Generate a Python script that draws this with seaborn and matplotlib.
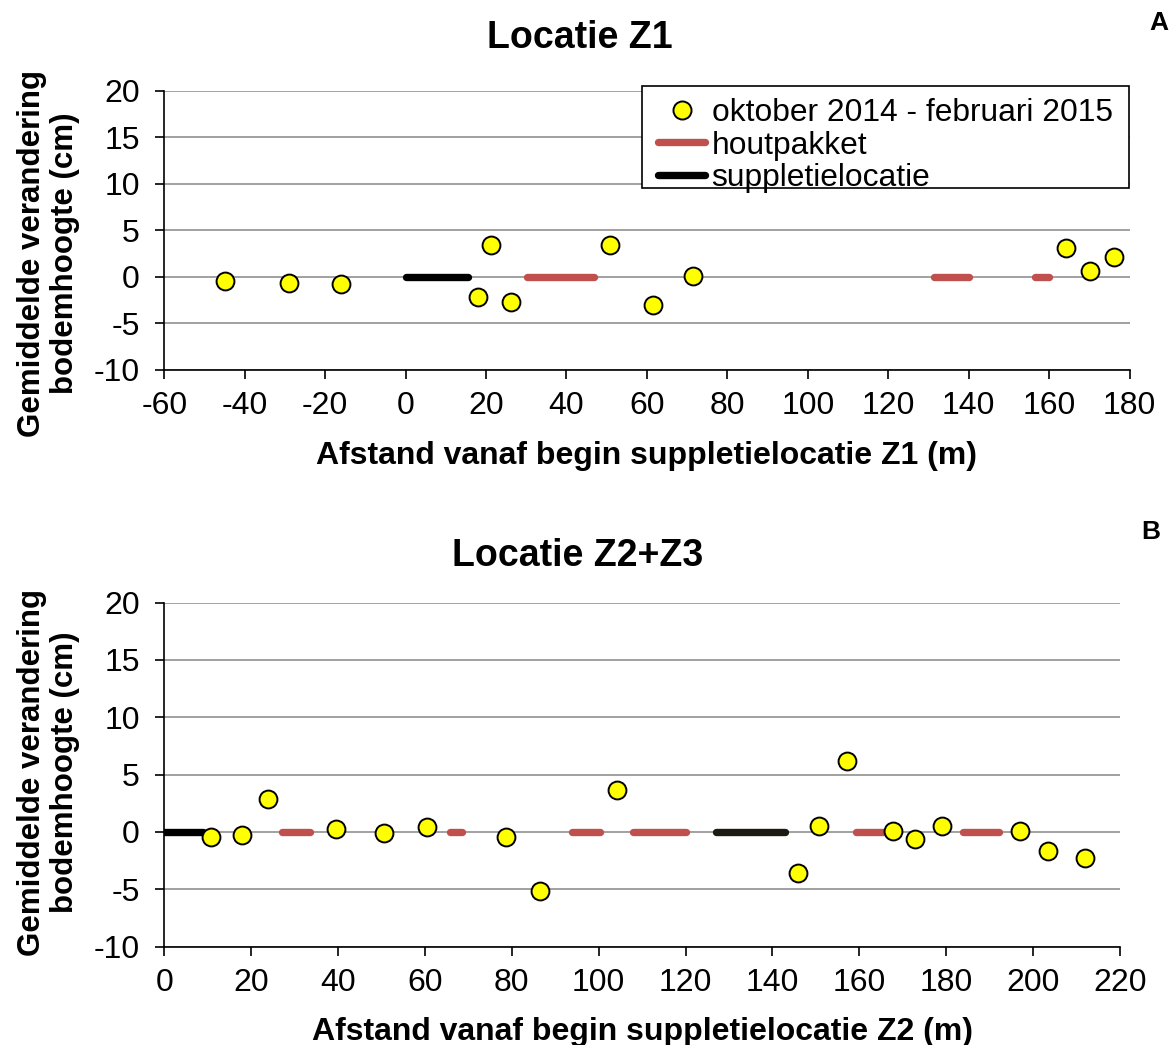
import matplotlib
matplotlib.use("Agg")
import matplotlib.pyplot as plt
from matplotlib.lines import Line2D
from matplotlib.patches import Rectangle
from matplotlib.legend_handler import HandlerLine2D
import pandas as pd
import seaborn as sns

# ---- Locatie Z1 -------------------------------------------------------------
z1_afstand = [-44.8, -28.9, -16.1, 18.0, 21.2, 26.3, 50.9, 61.4, 71.4, 164.1, 170.2, 176.1]
z1_verandering = [-0.47, -0.65, -0.76, -2.17, 3.41, -2.68, 3.41, -3.0, 0.05, 3.08, 0.65, 2.07]
z1_hout_begin = [30.2, 131.4, 156.4]
z1_hout_eind = [46.9, 140.0, 160.1]
z1_suppletie_begin = [0.0]
z1_suppletie_eind = [15.5]

# ---- Locatie Z2+Z3 ----------------------------------------------------------
z2_afstand = [10.8, 17.8, 23.8, 39.6, 50.6, 60.5, 78.6, 86.6, 104.1,
              145.9, 150.7, 157.1, 167.8, 172.9, 179.1, 196.9, 203.5, 212.0]
z2_verandering = [-0.44, -0.23, 2.85, 0.29, -0.12, 0.44, -0.44, -5.15, 3.69,
                  -3.55, 0.49, 6.22, 0.06, -0.64, 0.49, 0.06, -1.66, -2.30]
z2_hout_begin = [27.0, 65.7, 93.8, 108.0, 159.3, 183.9]
z2_hout_eind = [33.6, 68.5, 100.4, 120.0, 166.0, 192.1]
z2_suppletie_begin = [0.0, 127.1]
z2_suppletie_eind = [9.0, 142.9]

y_ticks = [-10, -5, 0, 5, 10, 15, 20]
z1_x_ticks = list(range(-60, 181, 20))
z2_x_ticks = list(range(0, 221, 20))

legend_labels = ["oktober 2014 - februari 2015", "houtpakket", "suppletielocatie"]

YELLOW = "#FFFF00"
RED = "#C0504D"
GRID = "#878787"
LW_SEG = 5.3
W, H = 1175, 1045

sns.set_theme(style="white")
plt.rcParams["font.family"] = ["Liberation Sans", "DejaVu Sans"]
plt.rcParams["axes.unicode_minus"] = False
plt.rcParams["text.color"] = "black"


def segments(begin, eind):
    rows = []
    for i, (b, e) in enumerate(zip(begin, eind)):
        rows.append({"seg": i, "x": b, "y": 0.0})
        rows.append({"seg": i, "x": e, "y": 0.0})
    return pd.DataFrame(rows)


def draw_panel(ax, afstand, verandering, hout_b, hout_e, supp_b, supp_e,
               xlim, xticks, supp_colors):
    ax.set_xlim(*xlim)
    ax.set_ylim(-10, 20)
    ax.set_yticks(y_ticks)
    ax.set_xticks(xticks)
    ax.yaxis.grid(True, color=GRID, lw=1.1)
    ax.xaxis.grid(False)
    ax.set_axisbelow(True)

    sns.lineplot(data=segments(hout_b, hout_e), x="x", y="y", units="seg",
                 estimator=None, sort=False, color=RED, lw=LW_SEG,
                 solid_capstyle="round", ax=ax, legend=False, zorder=3)
    sns.lineplot(data=segments(supp_b, supp_e), x="x", y="y", hue="seg",
                 palette=supp_colors[:len(supp_b)], estimator=None, sort=False,
                 lw=LW_SEG, solid_capstyle="round", ax=ax, legend=False, zorder=3)
    sns.scatterplot(x=afstand, y=verandering, s=165, color=YELLOW,
                    edgecolor="black", linewidth=1.4, ax=ax, zorder=5,
                    legend=False)

    sns.despine(ax=ax)
    for side in ("left", "bottom"):
        ax.spines[side].set_color("black")
        ax.spines[side].set_linewidth(1.2)
    ax.tick_params(axis="both", which="major", direction="out", length=6.5,
                   width=1.2, color="black", labelsize=23, labelcolor="black",
                   bottom=True, left=True, top=False, right=False)
    ax.tick_params(axis="y", pad=11)
    ax.tick_params(axis="x", pad=9)


fig = plt.figure(figsize=(W / 100, H / 100), dpi=100)
ax1 = fig.add_axes([0.1398, 0.6462, 0.8215, 0.2670])
ax2 = fig.add_axes([0.1398, 0.0941, 0.8134, 0.3292])

draw_panel(ax1, z1_afstand, z1_verandering, z1_hout_begin, z1_hout_eind,
           z1_suppletie_begin, z1_suppletie_eind, (-60, 180), z1_x_ticks,
           ["#000000"])
draw_panel(ax2, z2_afstand, z2_verandering, z2_hout_begin, z2_hout_eind,
           z2_suppletie_begin, z2_suppletie_eind, (0, 220), z2_x_ticks,
           ["#000000", "#1d1a12"])

ylab = "Gemiddelde verandering\nbodemhoogte (cm)"
for ax, xl in ((ax1, "Afstand vanaf begin suppletielocatie Z1 (m)"),
               (ax2, "Afstand vanaf begin suppletielocatie Z2 (m)")):
    ax.set_xlabel(xl, fontsize=23, fontweight="bold", color="black")
    ax.set_ylabel(ylab, fontsize=22.5, fontweight="bold", color="black",
                  linespacing=1.15)
    ax.yaxis.label.set_multialignment("center")

ax1.xaxis.set_label_coords(0.5, -0.255)
ax2.xaxis.set_label_coords(0.5, -0.204)
ax1.yaxis.set_label_coords(-0.0873, 0.418)
ax2.yaxis.set_label_coords(-0.0882, 0.506)

fig.text(579.5 / W, 1 - 48.3 / H, "Locatie Z1", fontsize=27,
         fontweight="bold", ha="center", va="baseline", color="black")
fig.text(577.5 / W, 1 - 566 / H, "Locatie Z2+Z3", fontsize=27,
         fontweight="bold", ha="center", va="baseline", color="black")
fig.text(1159 / W, 1 - 23 / H, "A", fontsize=19, fontweight="bold",
         ha="center", va="center", color="black")
fig.text(1151 / W, 1 - 532 / H, "B", fontsize=19, fontweight="bold",
         ha="center", va="center", color="black")

# legend box: white panel with a thin black border behind the entries
legend_box = Rectangle((641.7 / W, 1 - 188 / H), (1129 - 641.7) / W, 102 / H,
                       transform=fig.transFigure, facecolor="white",
                       edgecolor="black", linewidth=1.2, zorder=9,
                       clip_on=False)
ax1.add_patch(legend_box)

handles = [
    Line2D([], [], ls="none", marker="o", markersize=13,
           markerfacecolor=YELLOW, markeredgecolor="black", markeredgewidth=1.4),
    Line2D([], [], color=RED, lw=LW_SEG, solid_capstyle="round"),
    Line2D([], [], color="black", lw=LW_SEG, solid_capstyle="round"),
]
leg = ax1.legend(handles, legend_labels, loc="upper left",
                 bbox_to_anchor=(0.4946, 0.981), borderaxespad=0,
                 fontsize=22.9, frameon=False, borderpad=0.07,
                 labelspacing=0.075, handlelength=1.93, handletextpad=0.2,
                 handler_map={Line2D: HandlerLine2D(xpad=0.456)})
leg.set_zorder(10)

fig.savefig("out.png", dpi=100, facecolor="white")
